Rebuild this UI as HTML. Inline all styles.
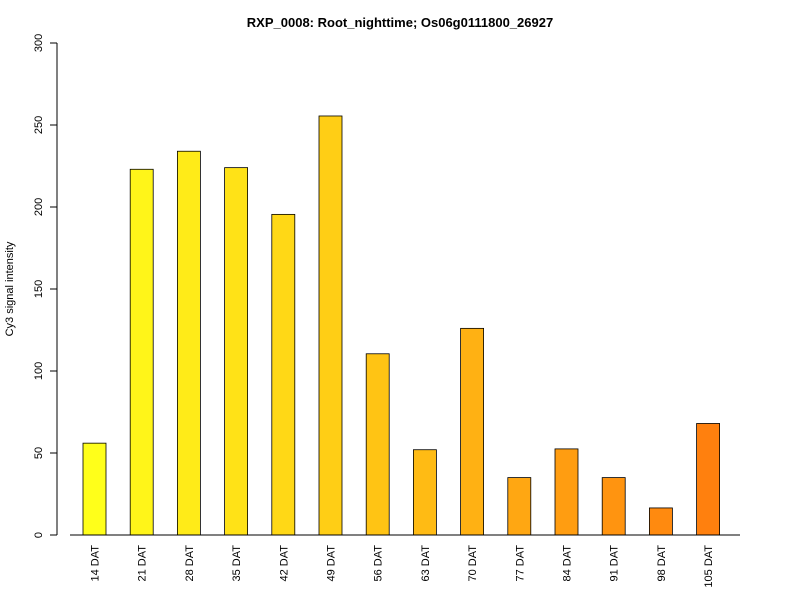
<!DOCTYPE html>
<html><head><meta charset="utf-8"><style>
body{margin:0;background:#fff;}
svg text{font-family:"Liberation Sans",sans-serif;}
</style></head><body>
<svg id="chart" width="800" height="600">
<text x="400" y="27" text-anchor="middle" font-size="13" font-weight="bold">RXP_0008: Root_nighttime; Os06g0111800_26927</text>
<text transform="translate(13,289) rotate(-90)" text-anchor="middle" font-size="11">Cy3 signal intensity</text>
<g id="yaxis"></g>
<g id="bars"></g>
<g id="xlabels"></g>
<line x1="70" y1="535" x2="740" y2="535" stroke="#000"/>
</svg>
<script>
const categories=["14 DAT","21 DAT","28 DAT","35 DAT","42 DAT","49 DAT","56 DAT","63 DAT","70 DAT","77 DAT","84 DAT","91 DAT","98 DAT","105 DAT"];
const values=[56,223,234,224,195.5,255.5,110.5,52,126,35,52.5,35,16.5,68];
const yTicks=[0,50,100,150,200,250,300];
const NS="http://www.w3.org/2000/svg";
const y=v=>535-v*(492/300);
const x=i=>94.5+i*47.2;
const ya=document.getElementById('yaxis');
function mk(t,a,p){const e=document.createElementNS(NS,t);for(const k in a)e.setAttribute(k,a[k]);p.appendChild(e);return e;}
const al=mk('line',{x1:57,x2:57,y1:y(0),y2:y(300),stroke:'#000'},ya);


yTicks.forEach(t=>{
 const tk=mk('line',{x1:50,x2:57,y1:y(t),y2:y(t),stroke:'#000'},ya);
 
 
 const tx=mk('text',{transform:`translate(42,${y(t)}) rotate(-90)`,'text-anchor':'middle','font-size':11},ya);
 tx.textContent=t;
 
 
});
const bg=document.getElementById('bars'),xl=document.getElementById('xlabels');
categories.forEach((c,i)=>{
 const f=i/(categories.length-1);
 const g=Math.round(255-f*(255-128)),b=Math.round(26-f*(26-14));
 const r=mk('rect',{x:x(i)-11.5,y:y(values[i]),width:23,height:y(0)-y(values[i]),fill:`rgb(255,${g},${b})`,stroke:'#000','stroke-width':0.8},bg);
 
 
 const t=mk('text',{transform:`translate(${x(i)+4},545) rotate(-90)`,'text-anchor':'end','font-size':11},xl);
 t.textContent=c;
 
 
});
</script>
</body></html>
